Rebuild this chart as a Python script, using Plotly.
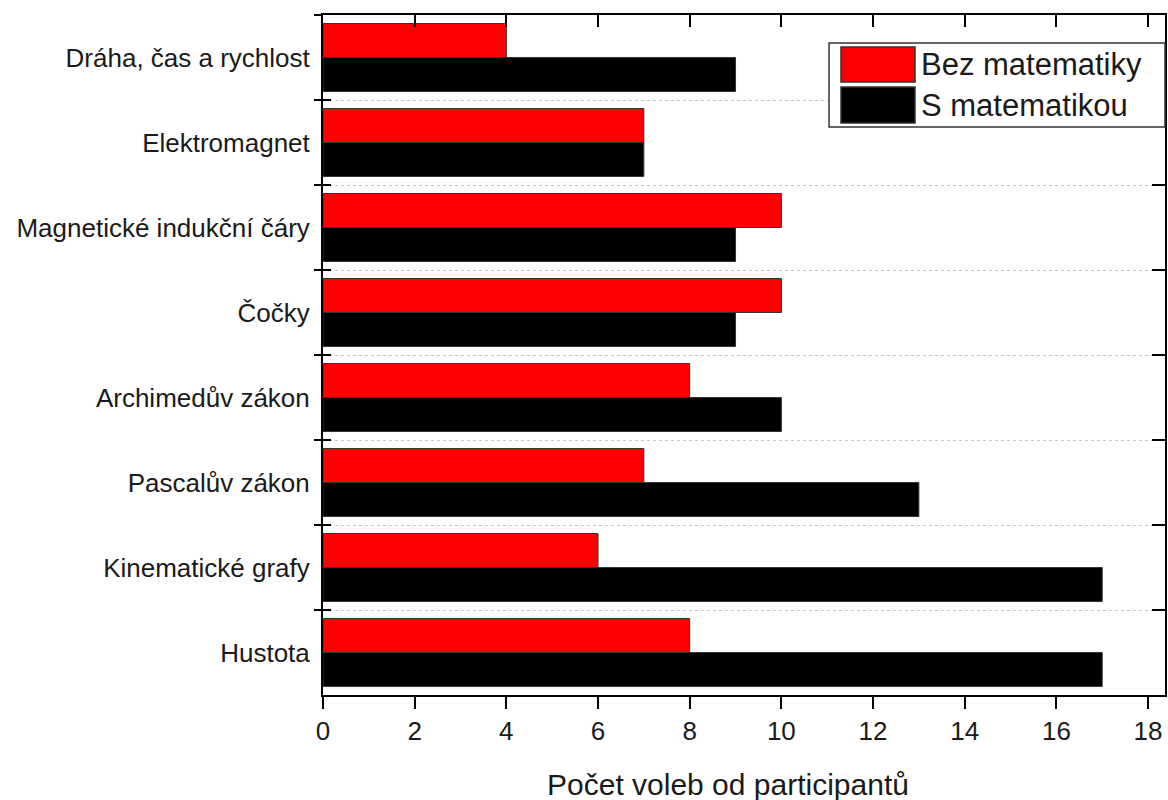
import plotly.graph_objects as go

categories = ["Dráha, čas a rychlost", "Elektromagnet", "Magnetické indukční čáry", "Čočky",
              "Archimedův zákon", "Pascalův zákon", "Kinematické grafy", "Hustota"]
bez_matematiky = [4, 7, 10, 10, 8, 7, 6, 8]
s_matematikou = [9, 7, 9, 9, 10, 13, 17, 17]
series_names = ["Bez matematiky", "S matematikou"]
series_colors = ["#ff0000", "#000000"]
x_title = "Počet voleb od participantů"

FONT = "Liberation Sans, Arial, sans-serif"
TXT = "#1a1a1a"

fig = go.Figure()
for name, vals, col in zip(series_names, [bez_matematiky, s_matematikou], series_colors):
    fig.add_trace(go.Bar(y=categories, x=vals, name=name, orientation="h",
                         marker=dict(color=col, line=dict(color="#333333", width=1)),
                         showlegend=False))

# invisible helper traces so the extra tick axes are drawn
for xa, ya in [("x2", "y"), ("x", "y2"), ("x", "y3")]:
    fig.add_trace(go.Scatter(x=[0] * len(categories), y=categories, xaxis=xa, yaxis=ya,
                             mode="markers", marker=dict(opacity=0), hoverinfo="skip",
                             showlegend=False))

yr = [len(categories) - 0.5, -0.5]
xr = [0, 18.37]
cat_common = dict(type="category", categoryorder="array", categoryarray=categories,
                  range=yr, tickson="boundaries")

fig.update_layout(
    width=1168, height=800,
    margin=dict(l=323, r=3, t=15, b=105, autoexpand=False),
    paper_bgcolor="white", plot_bgcolor="white",
    font=dict(family=FONT, size=26, color=TXT),
    barmode="group", bargap=0.2, bargroupgap=0,
    xaxis=dict(range=xr, dtick=2, tick0=0, ticks="outside", ticklen=12, tickwidth=2,
               tickcolor="black", showline=True, linewidth=2, linecolor="black", mirror=True,
               showgrid=False, zeroline=False, tickfont=dict(size=26, color=TXT)),
    xaxis2=dict(range=xr, dtick=2, tick0=0, overlaying="x", side="top", ticks="inside",
                ticklen=12, tickwidth=2, tickcolor="black", showticklabels=False,
                showline=False, showgrid=False, zeroline=False),
    yaxis=dict(**cat_common, ticks="outside", ticklen=7, tickwidth=2, tickcolor="black",
               showline=True, linewidth=2, linecolor="black", mirror=True,
               showgrid=True, gridcolor="#c8c8c8", griddash="dot", gridwidth=1,
               ticklabelstandoff=6, tickfont=dict(size=26, color=TXT)),
    yaxis2=dict(**cat_common, overlaying="y", side="right", ticks="inside", ticklen=13,
                tickwidth=2, tickcolor="black", showticklabels=False, showline=False,
                showgrid=False),
    yaxis3=dict(**cat_common, overlaying="y", side="left", ticks="inside", ticklen=8,
                tickwidth=2, tickcolor="black", showticklabels=False, showline=False,
                showgrid=False),
)

# x-axis title
fig.add_annotation(text=x_title, xref="paper", yref="paper", x=0.481, y=-0.132,
                   xanchor="center", yanchor="middle", showarrow=False,
                   font=dict(family=FONT, size=30, color=TXT))

# legend box (custom, large swatches)
fig.add_shape(type="rect", xref="paper", yref="paper", x0=0.601, x1=1.0, y0=0.8353, y1=0.9588,
              line=dict(color="#333333", width=1.5), fillcolor="white", layer="above")
sw_y = [(0.9015, 0.9529), (0.8412, 0.8941)]
txt_y = [0.9279, 0.8676]
for name, col, (y0, y1), ty in zip(series_names, series_colors, sw_y, txt_y):
    fig.add_shape(type="rect", xref="paper", yref="paper", x0=0.6152, x1=0.7031, y0=y0, y1=y1,
                  line=dict(color="#333333", width=1.5), fillcolor=col, layer="above")
    fig.add_annotation(text=name, xref="paper", yref="paper", x=0.7078, y=ty,
                       xanchor="left", yanchor="middle", showarrow=False,
                       font=dict(family=FONT, size=31, color=TXT))

fig.write_html("out.html", config={"displayModeBar": False},
               post_script="document.body.style.margin='0';")
